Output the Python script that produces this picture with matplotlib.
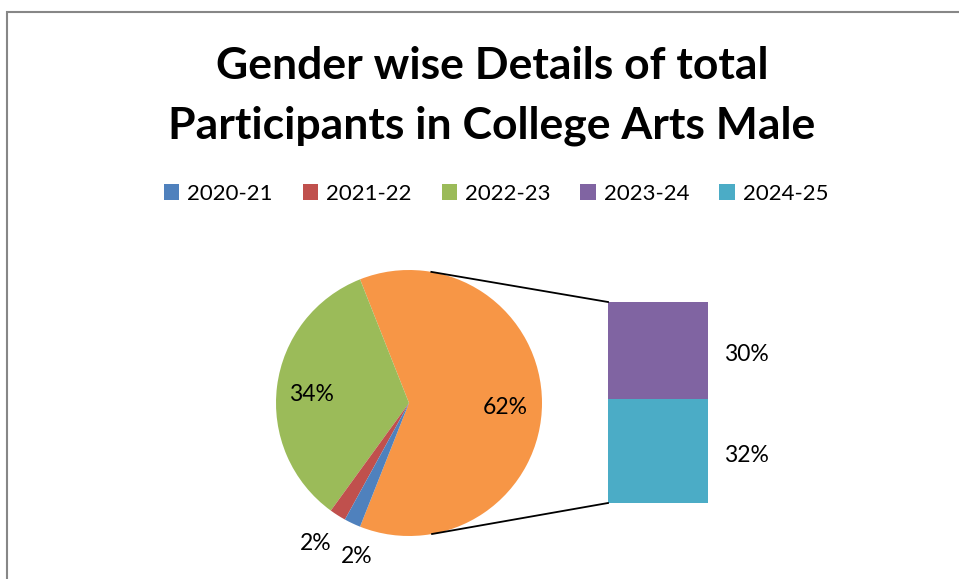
import numpy as np
import matplotlib.pyplot as plt
from matplotlib.patches import Patch, Rectangle

# data
years = ['2020-21', '2021-22', '2022-23', '2023-24', '2024-25']
percent = [2, 2, 34, 30, 32]
colors = ['#4F81BD', '#C0504D', '#9BBB59', '#8064A2', '#4BACC6']
other_color = '#F79646'

plt.rcParams['font.family'] = ['Lato', 'DejaVu Sans']

W, H = 959, 579
fig = plt.figure(figsize=(W / 100, H / 100), dpi=100)
ax = fig.add_axes([0, 0, 1, 1])

# pie: "other" slice (last two years) + first three years
other = percent[3] + percent[4]
pie_vals = [other, percent[2], percent[1], percent[0]]
pie_cols = [other_color, colors[2], colors[1], colors[0]]
cx, cy, r = 409, H - 403, 133
start = -other / 100 * 360 / 2
wedges, _ = ax.pie(pie_vals, colors=pie_cols, startangle=start, counterclock=True,
                   center=(cx, cy), radius=r, wedgeprops=dict(linewidth=0))

# pie labels (small downward nudge so the digits sit like the original)
nudge = 4
label_dist = [0.72, 0.74, 1.24, 1.19]
ang_shift = [0, 0, -2, 6]
for w, v, d, s in zip(wedges, pie_vals, label_dist, ang_shift):
    mid = np.deg2rad((w.theta1 + w.theta2) / 2 + s)
    ax.text(cx + d * r * np.cos(mid), cy + d * r * np.sin(mid) - nudge, f'{v}%',
            ha='center', va='center', fontsize=16.5)

# bar of the "other" slice
bx, bw, bbot = 608, 100, H - 503
scale = 201 / other
y0 = bbot
for val, col in [(percent[4], colors[4]), (percent[3], colors[3])]:
    ax.bar(bx, val * scale, width=bw, bottom=y0, color=col, align='edge', linewidth=0)
    ax.text(bx + bw + 38, y0 + val * scale / 2 - nudge, f'{val}%', ha='center', va='center',
            fontsize=16.5)
    y0 += val * scale

# connector lines tangent to the pie
for px, py, sgn in [(bx, y0, 1), (bx, bbot, -1)]:
    dx, dy = px - cx, py - cy
    d = np.hypot(dx, dy)
    a = np.arctan2(dy, dx) + sgn * np.arccos(r / d)
    ax.plot([cx + r * np.cos(a), px], [cy + r * np.sin(a), py], color='black', lw=1.3)

# chart border
ax.add_patch(Rectangle((7, -10), W, H - 12 + 10, fill=False, edgecolor='#878787', lw=1.5))

ax.set_xlim(0, W)
ax.set_ylim(0, H)
ax.set_aspect('equal')
ax.axis('off')

fig.text(492, H - 66, 'Gender wise Details of total', transform=None,
         ha='center', va='center', fontsize=32, fontweight='bold')
fig.text(492, H - 126, 'Participants in College Arts Male', transform=None,
         ha='center', va='center', fontsize=32, fontweight='bold')

handles = [Patch(facecolor=c, edgecolor='none') for c in colors]
fig.legend(handles, years, loc='center', bbox_to_anchor=(496 / W, 1 - 194 / H),
           ncol=5, frameon=False, fontsize=16, handlelength=0.7, handleheight=0.7,
           handletextpad=0.35, columnspacing=1.35)

fig.savefig('out.png', dpi=100)
